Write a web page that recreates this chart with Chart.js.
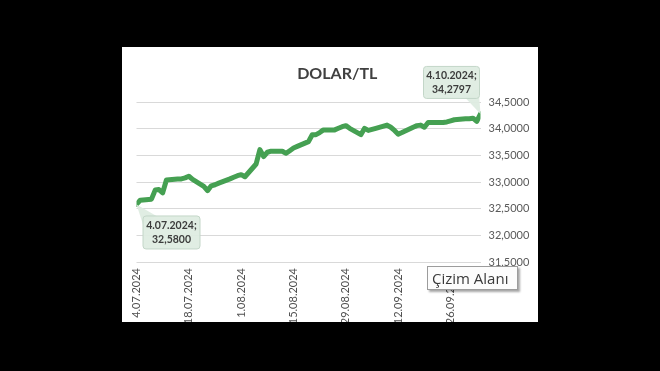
<!DOCTYPE html>
<html>
<head>
<meta charset="utf-8">
<script src="https://cdn.jsdelivr.net/npm/chart.js@4"></script>
<style>
html,body{margin:0;padding:0;background:#000;width:660px;height:371px;overflow:hidden}
#card{position:absolute;left:122px;top:47px;width:416px;height:275px;background:#fff}
#card canvas{display:block}
#tip{position:absolute;left:427px;top:266px;width:91px;height:24px;box-sizing:border-box;background:#fcfcfc;border:1px solid #9c9c9c;box-shadow:2px 2px 2px rgba(0,0,0,0.35);font:15px "Open Sans",sans-serif;color:#3a3a3a;line-height:22px;padding-left:4px;white-space:nowrap;z-index:2}
</style>
</head>
<body>
<div id="card"><canvas id="c" width="416" height="275"></canvas></div>
<div id="tip">Çizim Alanı</div>
<script>
// ---- data ----
const dates = [
 '4.07.2024','5.07.2024','8.07.2024','9.07.2024','10.07.2024','11.07.2024','12.07.2024',
 '15.07.2024','16.07.2024','17.07.2024','18.07.2024','19.07.2024',
 '22.07.2024','23.07.2024','24.07.2024','25.07.2024','26.07.2024',
 '29.07.2024','30.07.2024','31.07.2024','1.08.2024','2.08.2024',
 '5.08.2024','6.08.2024','7.08.2024','8.08.2024','9.08.2024',
 '12.08.2024','13.08.2024','14.08.2024','15.08.2024','16.08.2024',
 '19.08.2024','20.08.2024','21.08.2024','22.08.2024','23.08.2024',
 '26.08.2024','27.08.2024','28.08.2024','29.08.2024','30.08.2024',
 '2.09.2024','3.09.2024','4.09.2024','5.09.2024','6.09.2024',
 '9.09.2024','10.09.2024','11.09.2024','12.09.2024','13.09.2024',
 '16.09.2024','17.09.2024','18.09.2024','19.09.2024','20.09.2024',
 '23.09.2024','24.09.2024','25.09.2024','26.09.2024','27.09.2024',
 '30.09.2024','1.10.2024','2.10.2024','3.10.2024','4.10.2024'
];
const values = [
 32.5800,32.66,32.68,32.85,32.86,32.80,33.04,
 33.06,33.06,33.08,33.11,33.05,
 32.92,32.84,32.93,32.95,32.98,
 33.06,33.09,33.12,33.14,33.10,
 33.34,33.61,33.48,33.56,33.58,
 33.58,33.54,33.59,33.64,33.67,
 33.76,33.89,33.89,33.93,33.98,
 33.98,34.01,34.04,34.06,34.01,
 33.89,34.01,33.97,33.99,34.01,
 34.07,34.03,33.97,33.90,33.93,
 34.03,34.06,34.07,34.03,34.12,
 34.12,34.12,34.13,34.15,34.17,
 34.19,34.19,34.20,34.14,34.2797
];
const tickLabels = ['4.07.2024','18.07.2024','1.08.2024','15.08.2024','29.08.2024','12.09.2024','26.09.2024'];
const yMin = 31.5, yMax = 34.5, yStep = 0.5;
const title = 'DOLAR/TL';

// ---- helpers ----
function toUTC(s){const p=s.split('.').map(Number);return Date.UTC(p[2],p[1]-1,p[0]);}
const t0 = toUTC(dates[0]);
function dayIndex(s){return Math.round((toUTC(s)-t0)/86400000);}
function fmt(v){return v.toFixed(4).replace('.',',');}

const points = dates.map((d,i)=>({x:dayIndex(d),y:values[i]}));

const calloutPlugin = {
  id:'callouts',
  afterDatasetsDraw(chart){
    const meta = chart.getDatasetMeta(0);
    const ctx = chart.ctx;
    const items = [
      {i:0, dx:6, dy:11, w:57, h:33, tail:'tl'},
      {i:values.length-1, dx:-57.5, dy:-48, w:56, h:32, tail:'br'}
    ];
    ctx.save();
    items.forEach(it=>{
      const p = meta.data[it.i];
      const bx = p.x+it.dx, by = p.y+it.dy;
      ctx.fillStyle='rgba(222,236,226,0.95)';
      ctx.strokeStyle='#c3d6c8';
      ctx.lineWidth=1;
      ctx.beginPath();
      if(it.tail==='tl'){
        ctx.moveTo(p.x,p.y);
        ctx.lineTo(bx+14,by+0.5);
        ctx.lineTo(bx+0.5,by+9);
      } else {
        ctx.moveTo(p.x,p.y);
        ctx.lineTo(bx+it.w-0.5,by+it.h-10);
        ctx.lineTo(bx+it.w-14,by+it.h-0.5);
      }
      ctx.closePath();
      ctx.fill();
      ctx.beginPath();
      ctx.roundRect(bx+0.5,by+0.5,it.w,it.h,3);
      ctx.fill();
      ctx.stroke();
      ctx.fillStyle='#3c3c3c';
      ctx.font='bold 10.5px Lato, sans-serif';
      ctx.textAlign='center';
      ctx.textBaseline='middle';
      const cx = bx+it.w/2+0.5, cy = by+it.h/2+0.5;
      ctx.fillText(dates[it.i]+';',cx,cy-7);
      ctx.fillText(fmt(values[it.i]),cx,cy+7);
    });
    ctx.restore();
  }
};

new Chart(document.getElementById('c'),{
  type:'line',
  data:{datasets:[{
    data:points,
    borderColor:'#45a052',
    borderWidth:5,
    borderJoinStyle:'round',
    borderCapStyle:'round',
    pointRadius:0,
    tension:0,
    fill:false
  }]},
  options:{
    responsive:false,
    animation:false,
    layout:{padding:{left:14.5,right:0,top:0,bottom:0}},
    plugins:{
      legend:{display:false},
      tooltip:{enabled:false},
      title:{display:true,text:title,color:'#404040',
        font:{family:'Lato',size:16,weight:'bold'},
        padding:{top:17,bottom:19}}
    },
    scales:{
      x:{
        type:'linear',
        min:dayIndex(dates[0]),
        max:dayIndex(dates[dates.length-1]),
        afterBuildTicks:s=>{s.ticks=tickLabels.map(l=>({value:dayIndex(l)}));},
        ticks:{autoSkip:false,minRotation:90,maxRotation:90,padding:6,color:'#505050',
          font:{family:'Lato',size:11},
          callback:(v)=>{const l=tickLabels.find(t=>dayIndex(t)===v);return l||'';}},
        grid:{display:false,drawTicks:false},
        border:{display:false},
        afterFit:s=>{s.height=60;}
      },
      y:{
        position:'right',
        min:yMin,max:yMax,
        ticks:{stepSize:yStep,padding:8,color:'#595959',font:{family:'Lato',size:11},
          callback:v=>fmt(v)},
        grid:{color:'#d9d9d9',drawTicks:false},
        border:{display:false},
        afterFit:s=>{s.width=57.5;}
      }
    }
  },
  plugins:[calloutPlugin]
});
</script>
</body>
</html>
